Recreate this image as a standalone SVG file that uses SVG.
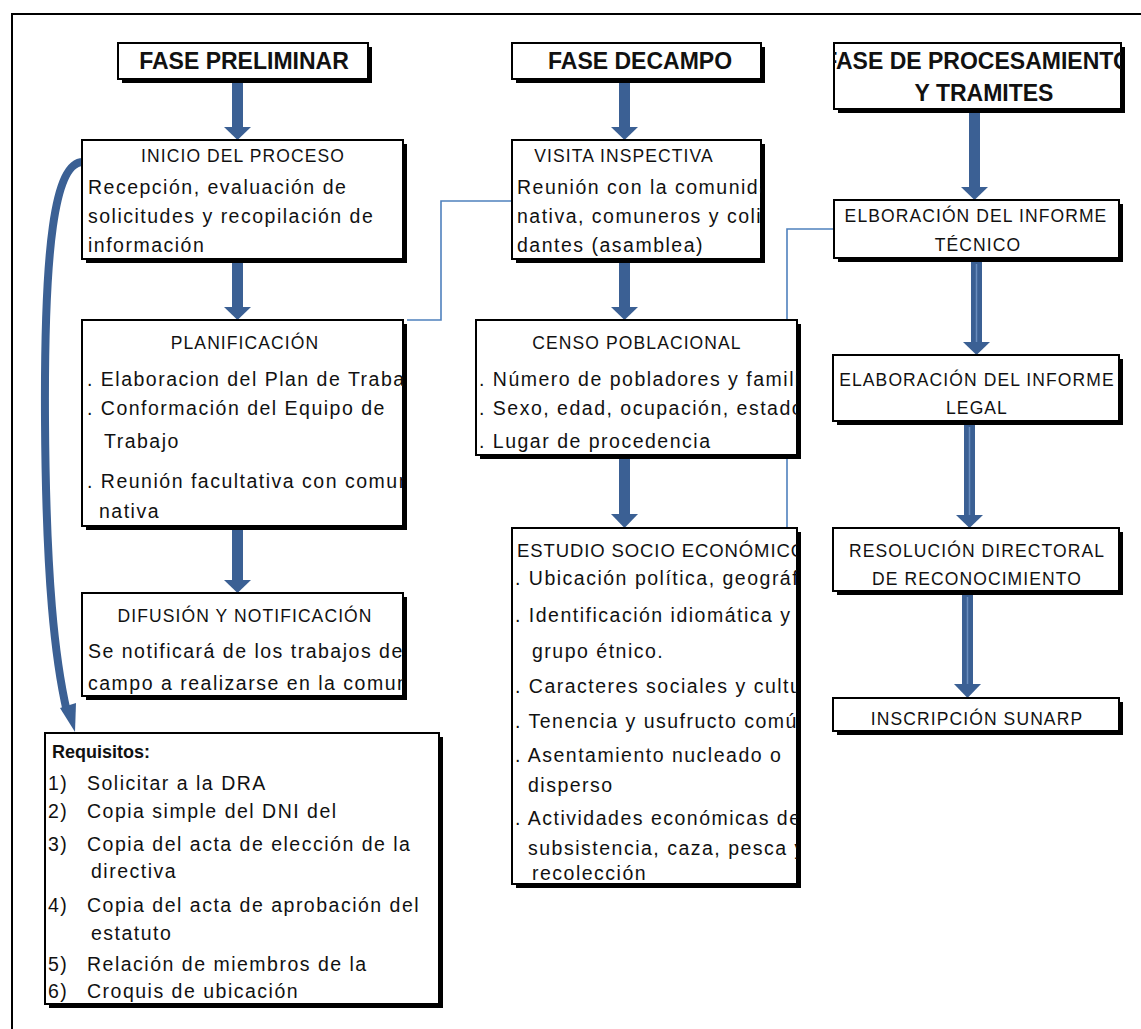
<svg xmlns="http://www.w3.org/2000/svg" width="1141" height="1029" viewBox="0 0 1141 1029">
<style>
.frame{fill:none;stroke:#000;stroke-width:2}
.sh{fill:#000}
.bx{fill:#fff;stroke:#000;stroke-width:2}
.h{font-family:"Liberation Sans",Arial,sans-serif;font-weight:bold;font-size:23px;fill:#111}
.t{font-family:"Liberation Sans",Arial,sans-serif;font-size:19.5px;fill:#111;letter-spacing:1.5px}
.cap{font-family:"Liberation Sans",Arial,sans-serif;font-size:17.5px;fill:#111;letter-spacing:1.1px}
.c{text-anchor:middle}
.thin{fill:none;stroke:#4F81BD;stroke-width:1.6}
.ar{fill:#3B6094}
.hl{stroke:#6A8DBE;stroke-width:1.5}
</style>
<defs>
<clipPath id="cpCam"><rect x="512" y="43" width="222" height="40"/></clipPath>
<clipPath id="cpPro"><rect x="834" y="43" width="287" height="70"/></clipPath>
<clipPath id="cpIni"><rect x="82" y="140" width="321" height="123"/></clipPath>
<clipPath id="cpPla"><rect x="82" y="320" width="321" height="210"/></clipPath>
<clipPath id="cpDif"><rect x="82" y="593" width="321" height="107"/></clipPath>
<clipPath id="cpVis"><rect x="512" y="140" width="249" height="123"/></clipPath>
<clipPath id="cpCen"><rect x="476" y="320" width="321" height="139"/></clipPath>
<clipPath id="cpEst"><rect x="512" y="528" width="285" height="360"/></clipPath>
</defs>

<rect class="frame" x="12" y="14" width="1200" height="1100"/>

<g id="connectors">
  <polyline class="thin" points="407,320 441,320 441,201 512,201"/>
  <polyline class="thin" points="787,528 787,229 834,229"/>
  <g>
    <rect class="ar" x="232" y="83" width="11" height="45"/>
    <polygon class="ar" points="224,127 251,127 237.5,140"/>
    <rect class="ar" x="232" y="263" width="11" height="45"/>
    <polygon class="ar" points="224,307 251,307 237.5,320"/>
    <rect class="ar" x="232" y="530" width="11" height="51"/>
    <polygon class="ar" points="224,580 251,580 237.5,593"/>
    <rect class="ar" x="619" y="83" width="11" height="45"/>
    <polygon class="ar" points="611,127 638,127 624.5,140"/>
    <rect class="ar" x="619" y="263" width="11" height="45"/>
    <polygon class="ar" points="611,307 638,307 624.5,320"/>
    <rect class="ar" x="619" y="459" width="11" height="56"/>
    <polygon class="ar" points="611,514 638,514 624.5,528"/>
    <rect class="ar" x="969" y="113" width="11" height="75"/>
    <polygon class="ar" points="961,187 988,187 974.5,200"/>
    <rect class="ar" x="971" y="262" width="11" height="81"/>
    <line class="hl" x1="976.5" y1="264" x2="976.5" y2="342"/>
    <polygon class="ar" points="963,342 990,342 976.5,355"/>
    <rect class="ar" x="964" y="425" width="11" height="91"/>
    <line class="hl" x1="969.5" y1="427" x2="969.5" y2="515"/>
    <polygon class="ar" points="956,515 983,515 969.5,528"/>
    <rect class="ar" x="962" y="595" width="11" height="90"/>
    <line class="hl" x1="967.5" y1="597" x2="967.5" y2="684"/>
    <polygon class="ar" points="954,684 981,684 967.5,698"/>
  </g>
  <path d="M 84 162 C 54 160, 44 250, 45 420 C 46 580, 55 660, 67 712" fill="none" stroke="#3B6094" stroke-width="8"/>
  <polygon class="ar" points="60,708 76,703 75,732"/>
</g>

<g id="fase-preliminar">
  <rect class="sh" x="122" y="47" width="250" height="36"/>
  <rect class="bx" x="118" y="43" width="250" height="36"/>
  <text class="h c" x="244" y="69">FASE PRELIMINAR</text>
</g>
<g id="fase-campo">
  <rect class="sh" x="516" y="47" width="249" height="36"/>
  <rect class="bx" x="512" y="43" width="249" height="36"/>
  <text class="h" x="548" y="69" clip-path="url(#cpCam)">FASE DECAMPO</text>
</g>
<g id="fase-procesamiento">
  <rect class="sh" x="838" y="47" width="287" height="66"/>
  <rect class="bx" x="834" y="43" width="287" height="66"/>
  <g clip-path="url(#cpPro)">
    <text class="h c" x="977" y="69">FASE DE PROCESAMIENTO</text>
    <text class="h c" x="984" y="101">Y TRAMITES</text>
  </g>
</g>

<g id="inicio">
  <rect class="sh" x="86" y="144" width="321" height="119"/>
  <rect class="bx" x="82" y="140" width="321" height="119"/>
  <g clip-path="url(#cpIni)">
    <text class="cap c" x="243" y="162">INICIO DEL PROCESO</text>
    <text class="t" x="88" y="194">Recepción, evaluación de</text>
    <text class="t" x="88" y="223">solicitudes y recopilación de</text>
    <text class="t" x="88" y="252">información</text>
  </g>
</g>
<g id="planificacion">
  <rect class="sh" x="86" y="324" width="321" height="206"/>
  <rect class="bx" x="82" y="320" width="321" height="206"/>
  <g clip-path="url(#cpPla)">
    <text class="cap c" x="245" y="349">PLANIFICACIÓN</text>
    <text class="t" x="87" y="386">. Elaboracion del Plan de Trabajo</text>
    <text class="t" x="87" y="415">. Conformación del Equipo de</text>
    <text class="t" x="104" y="448">Trabajo</text>
    <text class="t" x="87" y="488">. Reunión facultativa con comunidad</text>
    <text class="t" x="99" y="518">nativa</text>
  </g>
</g>
<g id="difusion">
  <rect class="sh" x="86" y="597" width="321" height="103"/>
  <rect class="bx" x="82" y="593" width="321" height="103"/>
  <g clip-path="url(#cpDif)">
    <text class="cap c" x="245" y="622">DIFUSIÓN Y NOTIFICACIÓN</text>
    <text class="t" x="88" y="658">Se notificará de los trabajos de</text>
    <text class="t" x="88" y="690">campo a realizarse en la comunidad</text>
  </g>
</g>
<g id="requisitos">
  <rect class="sh" x="49" y="737" width="394" height="271"/>
  <rect class="bx" x="45" y="733" width="394" height="271"/>
  <text class="t" x="52" y="758" style="font-weight:bold;letter-spacing:0;font-size:18px">Requisitos:</text>
  <text class="t" x="48" y="790">1)</text><text class="t" x="87" y="790">Solicitar a la DRA</text>
  <text class="t" x="48" y="818">2)</text><text class="t" x="87" y="818">Copia simple del DNI del</text>
  <text class="t" x="48" y="851">3)</text><text class="t" x="87" y="851">Copia del acta de elección de la</text>
  <text class="t" x="91" y="878">directiva</text>
  <text class="t" x="48" y="912">4)</text><text class="t" x="87" y="912">Copia del acta de aprobación del</text>
  <text class="t" x="91" y="940">estatuto</text>
  <text class="t" x="48" y="971">5)</text><text class="t" x="87" y="971">Relación de miembros de la</text>
  <text class="t" x="48" y="998">6)</text><text class="t" x="87" y="998">Croquis de ubicación</text>
</g>

<g id="visita">
  <rect class="sh" x="516" y="144" width="249" height="119"/>
  <rect class="bx" x="512" y="140" width="249" height="119"/>
  <g clip-path="url(#cpVis)">
    <text class="cap c" x="624" y="162">VISITA INSPECTIVA</text>
    <text class="t" x="517" y="194">Reunión con la comunidad</text>
    <text class="t" x="517" y="223">nativa, comuneros y colindantes</text>
    <text class="t" x="517" y="252">dantes (asamblea)</text>
  </g>
</g>
<g id="censo">
  <rect class="sh" x="480" y="324" width="321" height="135"/>
  <rect class="bx" x="476" y="320" width="321" height="135"/>
  <g clip-path="url(#cpCen)">
    <text class="cap c" x="637" y="349">CENSO POBLACIONAL</text>
    <text class="t" x="479" y="386">. Número de pobladores y familias</text>
    <text class="t" x="479" y="415">. Sexo, edad, ocupación, estado civil</text>
    <text class="t" x="479" y="448">. Lugar de procedencia</text>
  </g>
</g>
<g id="estudio">
  <rect class="sh" x="516" y="532" width="285" height="356"/>
  <rect class="bx" x="512" y="528" width="285" height="356"/>
  <g clip-path="url(#cpEst)">
    <text class="cap" x="517" y="557" style="font-size:18.5px;letter-spacing:0.9px">ESTUDIO SOCIO ECONÓMICO</text>
    <text class="t" x="515" y="585">. Ubicación política, geográfica</text>
    <text class="t" x="515" y="622">. Identificación idiomática y</text>
    <text class="t" x="532" y="658">grupo étnico.</text>
    <text class="t" x="515" y="693">. Caracteres sociales y culturales</text>
    <text class="t" x="515" y="728">. Tenencia y usufructo común</text>
    <text class="t" x="515" y="762">. Asentamiento nucleado o</text>
    <text class="t" x="528" y="792">disperso</text>
    <text class="t" x="515" y="825">. Actividades económicas de</text>
    <text class="t" x="528" y="855">subsistencia, caza, pesca y</text>
    <text class="t" x="532" y="880">recolección</text>
  </g>
</g>

<g id="informe-tecnico">
  <rect class="sh" x="838" y="204" width="285" height="58"/>
  <rect class="bx" x="834" y="200" width="285" height="58"/>
  <text class="cap c" x="976" y="222">ELBORACIÓN DEL INFORME</text>
  <text class="cap c" x="978" y="251">TÉCNICO</text>
</g>
<g id="informe-legal">
  <rect class="sh" x="837" y="359" width="286" height="66"/>
  <rect class="bx" x="833" y="355" width="286" height="66"/>
  <text class="cap c" x="977" y="386">ELABORACIÓN DEL INFORME</text>
  <text class="cap c" x="977" y="414">LEGAL</text>
</g>
<g id="resolucion">
  <rect class="sh" x="837" y="532" width="286" height="63"/>
  <rect class="bx" x="833" y="528" width="286" height="63"/>
  <text class="cap c" x="977" y="557">RESOLUCIÓN DIRECTORAL</text>
  <text class="cap c" x="977" y="585">DE RECONOCIMIENTO</text>
</g>
<g id="inscripcion">
  <rect class="sh" x="837" y="702" width="286" height="33"/>
  <rect class="bx" x="833" y="698" width="286" height="33"/>
  <text class="cap c" x="977" y="725">INSCRIPCIÓN SUNARP</text>
</g>
</svg>
